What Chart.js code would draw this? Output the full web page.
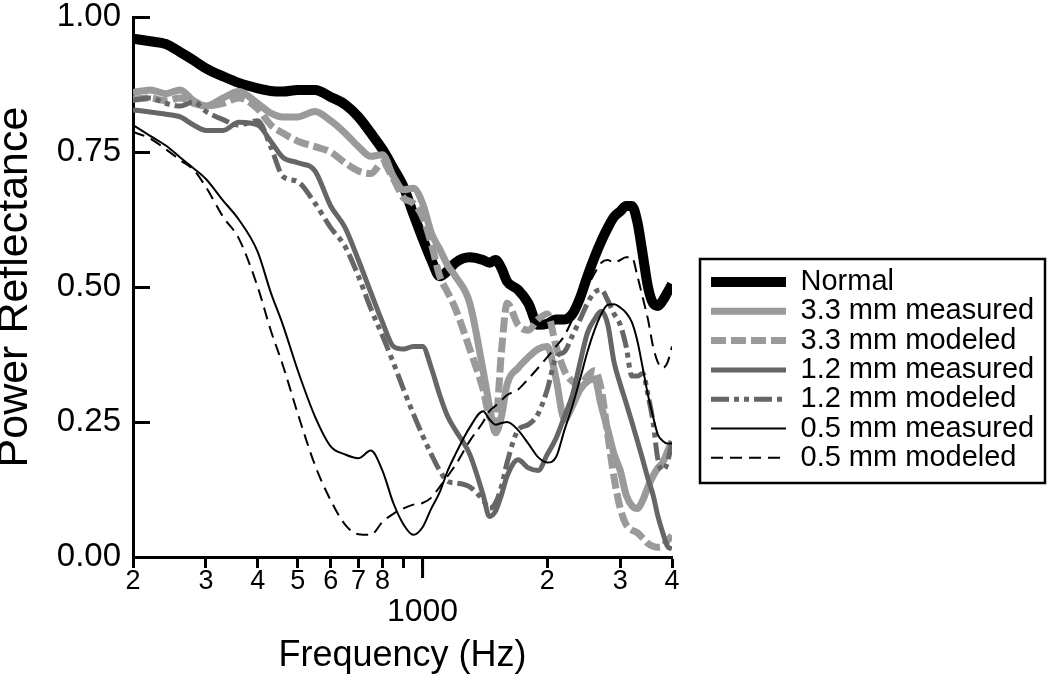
<!DOCTYPE html>
<html>
<head>
<meta charset="utf-8">
<script src="https://cdn.jsdelivr.net/npm/chart.js@4.4.1/dist/chart.umd.min.js"></script>
<style>
  html, body { margin: 0; padding: 0; background: #fff; }
  #wrap { width: 1050px; height: 677px; }
</style>
</head>
<body>
<div id="wrap"><canvas id="chart" width="1050" height="677"></canvas></div>
<script>
// frequency grid (Hz) shared by all curves
const freqHz = [200, 220, 240, 260, 280, 300, 330, 360, 400, 430, 460, 500,
  550, 600, 650, 700, 750, 800, 850, 900, 950, 1000,
  1050, 1100, 1150, 1200, 1300, 1400, 1450, 1500, 1550,
  1600, 1700, 1800, 1900, 2000, 2100, 2200, 2300, 2400, 2500, 2600, 2700, 2800, 2900, 3000,
  3100, 3200, 3300, 3400, 3500, 3600, 3700, 3800, 3900, 4000];

const normal = [0.96, 0.955, 0.95, 0.935, 0.92, 0.905, 0.89, 0.878, 0.868, 0.863, 0.862, 0.865,
  0.865, 0.852, 0.838, 0.815, 0.785, 0.755, 0.72, 0.685, 0.635, 0.59,
  0.55, 0.52, 0.53, 0.545, 0.555, 0.55, 0.545, 0.55, 0.535,
  0.51, 0.495, 0.47, 0.43, 0.432, 0.44, 0.44, 0.45, 0.48, 0.52, 0.555, 0.585, 0.61, 0.63, 0.64,
  0.65, 0.65, 0.62, 0.56, 0.5, 0.47, 0.465, 0.475, 0.49, 0.505];

const mm33Measured = [0.86, 0.865, 0.858, 0.865, 0.845, 0.835, 0.85, 0.862, 0.84, 0.822, 0.815, 0.815,
  0.825, 0.808, 0.785, 0.76, 0.742, 0.745, 0.705, 0.68, 0.683, 0.655,
  0.6, 0.57, 0.54, 0.52, 0.47, 0.345, 0.28, 0.23, 0.26,
  0.32, 0.35, 0.37, 0.385, 0.39, 0.33, 0.255, 0.28, 0.31, 0.325, 0.33, 0.28, 0.235, 0.19, 0.16,
  0.115, 0.095, 0.09, 0.105, 0.13, 0.15, 0.165, 0.175, 0.195, 0.215];

const mm33Modeled = [0.848, 0.85, 0.845, 0.85, 0.84, 0.835, 0.84, 0.85, 0.83, 0.8, 0.785, 0.77,
  0.76, 0.75, 0.73, 0.715, 0.71, 0.73, 0.7, 0.665, 0.655, 0.63,
  0.58, 0.52, 0.49, 0.46, 0.385, 0.31, 0.26, 0.25, 0.38,
  0.47, 0.43, 0.42, 0.44, 0.45, 0.39, 0.345, 0.325, 0.318, 0.335, 0.345, 0.31, 0.225, 0.146, 0.09,
  0.06, 0.05, 0.045, 0.035, 0.025, 0.02, 0.018, 0.02, 0.03, 0.04];

const mm12Measured = [0.828, 0.824, 0.82, 0.815, 0.8, 0.79, 0.79, 0.805, 0.8, 0.77, 0.74, 0.73,
  0.715, 0.65, 0.61, 0.55, 0.49, 0.435, 0.39, 0.385, 0.39, 0.39,
  0.35, 0.3, 0.26, 0.235, 0.19, 0.115, 0.075, 0.085, 0.115,
  0.15, 0.18, 0.165, 0.16, 0.19, 0.22, 0.26, 0.3, 0.36, 0.415, 0.44, 0.455, 0.43, 0.36, 0.32,
  0.285, 0.25, 0.215, 0.18, 0.145, 0.115, 0.075, 0.045, 0.02, 0.015];

const mm12Modeled = [0.846, 0.85, 0.84, 0.835, 0.843, 0.825, 0.81, 0.8, 0.808, 0.76, 0.705, 0.695,
  0.655, 0.61, 0.575, 0.52, 0.46, 0.41, 0.36, 0.31, 0.265, 0.225,
  0.19, 0.16, 0.14, 0.137, 0.13, 0.105, 0.09, 0.1, 0.13,
  0.175, 0.235, 0.245, 0.265, 0.31, 0.37, 0.38, 0.41, 0.44, 0.47, 0.49, 0.495, 0.475, 0.45, 0.43,
  0.39, 0.335, 0.335, 0.34, 0.3, 0.25, 0.18, 0.16, 0.175, 0.215];

const mm05Measured = [0.8, 0.78, 0.762, 0.74, 0.72, 0.7, 0.66, 0.625, 0.565, 0.49, 0.43, 0.345,
  0.26, 0.205, 0.19, 0.183, 0.197, 0.16, 0.1, 0.06, 0.041, 0.055,
  0.09, 0.12, 0.16, 0.19, 0.24, 0.27, 0.255, 0.245, 0.248,
  0.25, 0.235, 0.21, 0.185, 0.175, 0.185, 0.235, 0.28, 0.33, 0.38, 0.42, 0.45, 0.467, 0.468, 0.462,
  0.452, 0.435, 0.4, 0.35, 0.3, 0.26, 0.226, 0.215, 0.21, 0.21];

const mm05Modeled = [0.787, 0.775, 0.755, 0.735, 0.717, 0.685, 0.63, 0.59, 0.5, 0.42, 0.355, 0.265,
  0.17, 0.105, 0.06, 0.042, 0.041, 0.065, 0.08, 0.09, 0.097, 0.1,
  0.11, 0.13, 0.15, 0.17, 0.215, 0.25, 0.27, 0.28, 0.29,
  0.3, 0.31, 0.33, 0.35, 0.37, 0.39, 0.41, 0.44, 0.47, 0.5, 0.525, 0.545, 0.55, 0.545, 0.55,
  0.555, 0.555, 0.52, 0.48, 0.44, 0.39, 0.36, 0.35, 0.36, 0.39];

const xTickValues = [200, 300, 400, 500, 600, 700, 800, 900, 1000, 2000, 3000, 4000];
const xTickLabels = ["2", "3", "4", "5", "6", "7", "8", "", ["", "1000"], "2", "3", "4"];
const yTickValues = [0, 0.25, 0.5, 0.75, 1];

const FONT = "'Liberation Sans', Arial, Helvetica, sans-serif";
Chart.defaults.font.family = FONT;
Chart.defaults.color = "#000";

function toPoints(values) {
  return freqHz.map((f, i) => ({ x: f, y: values[i] }));
}

function series(label, values, color, width, dash, order) {
  return {
    label: label,
    data: toPoints(values),
    borderColor: color,
    backgroundColor: color,
    borderWidth: width,
    borderDash: dash,
    borderJoinStyle: "round",
    cubicInterpolationMode: "monotone",
    pointRadius: 0,
    fill: false,
    order: order
  };
}

// moves the legend to its boxed spot right of the plot, draws the box and the long 1000 tick
const frameAndLegend = {
  id: "frameAndLegend",
  afterLayout(chart) {
    const lg = chart.legend;
    if (!lg) return;
    lg.left = 710.7; lg.top = 267.2; lg.right = 1045; lg.bottom = 483;
    lg.width = lg.right - lg.left; lg.height = lg.bottom - lg.top;
  },
  afterDraw(chart) {
    const ctx = chart.ctx;
    const xs = chart.scales.x;
    ctx.save();
    ctx.strokeStyle = "#000";
    ctx.lineWidth = 2.5;
    ctx.strokeRect(700, 259, 345, 224);
    const px = xs.getPixelForValue(1000);
    ctx.lineWidth = 3;
    ctx.beginPath();
    ctx.moveTo(px, xs.top);
    ctx.lineTo(px, xs.top + 21);
    ctx.stroke();
    ctx.restore();
  }
};

new Chart(document.getElementById("chart"), {
  type: "line",
  data: {
    datasets: [
      series("Normal", normal, "#000", 10, [], 7),
      series("3.3 mm measured", mm33Measured, "#9a9a9a", 7, [], 6),
      series("3.3 mm modeled", mm33Modeled, "#9a9a9a", 7, [15, 5], 5),
      series("1.2 mm measured", mm12Measured, "#666666", 5, [], 4),
      series("1.2 mm modeled", mm12Modeled, "#666666", 5, [18, 5, 5, 5, 5, 5], 3),
      series("0.5 mm measured", mm05Measured, "#000", 2, [], 2),
      series("0.5 mm modeled", mm05Modeled, "#000", 2, [12, 7], 1)
    ]
  },
  options: {
    responsive: false,
    animation: false,
    devicePixelRatio: 1,
    layout: { padding: { top: 17, right: 378, left: 0, bottom: 0 } },
    plugins: {
      tooltip: { enabled: false },
      legend: {
        position: "chartArea",
        fullSize: false,
        align: "start",
        labels: {
          usePointStyle: true,
          pointStyleWidth: 75,
          padding: 0.3,
          color: "#000",
          font: { size: 29 },
          generateLabels: (chart) => chart.data.datasets.map((ds, i) => ({
            text: ds.label,
            strokeStyle: ds.borderColor,
            fillStyle: ds.borderColor,
            lineWidth: ds.borderWidth,
            lineDash: ds.borderDash,
            lineCap: "butt",
            pointStyle: "line",
            fontColor: "#000",
            hidden: false,
            datasetIndex: i
          }))
        }
      }
    },
    scales: {
      x: {
        type: "logarithmic",
        position: "bottom",
        min: 200,
        max: 4000,
        afterBuildTicks: (scale) => { scale.ticks = xTickValues.map((v) => ({ value: v })); },
        afterFit: (scale) => { scale.height = 120; },
        ticks: {
          autoSkip: false,
          maxRotation: 0,
          minRotation: 0,
          padding: 0,
          color: "#000",
          font: (ctx) => (ctx.tick && ctx.tick.value === 1000) ? { size: 32, lineHeight: 0.92 } : { size: 27, lineHeight: 1 },
          callback: (value, index) => xTickLabels[index]
        },
        grid: { display: true, drawOnChartArea: false, drawTicks: true, tickLength: 11, tickWidth: 3, tickColor: "#000" },
        border: { display: true, color: "#000", width: 3 },
        title: { display: true, text: "Frequency (Hz)", color: "#000", font: { size: 36, lineHeight: 1 }, padding: { top: 0, bottom: 3 } }
      },
      y: {
        type: "linear",
        min: 0,
        max: 1,
        afterBuildTicks: (scale) => { scale.ticks = yTickValues.map((v) => ({ value: v })); },
        afterFit: (scale) => { scale.width = 133; scale.paddingTop = 0; scale.paddingBottom = 0; },
        ticks: {
          padding: 29,
          color: "#000",
          font: { size: 33, lineHeight: 1 },
          callback: (value) => Number(value).toFixed(2)
        },
        grid: { display: true, drawOnChartArea: false, drawTicks: true, tickLength: -17, tickWidth: 3, tickColor: "#000" },
        border: { display: true, color: "#000", width: 3 },
        title: { display: true, text: "Power Reflectance", color: "#000", font: { size: 43, lineHeight: 0.7 }, padding: 0 }
      }
    }
  },
  plugins: [frameAndLegend]
});
</script>
</body>
</html>
